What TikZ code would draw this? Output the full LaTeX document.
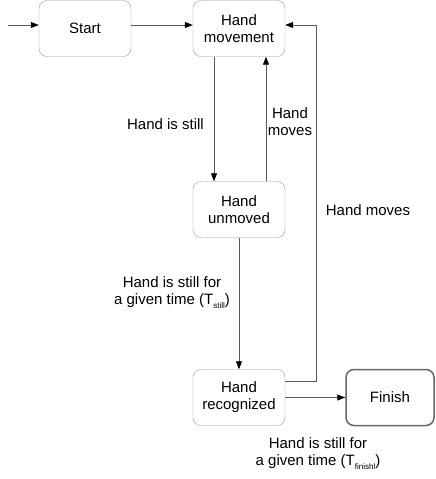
\documentclass[tikz,border=0pt]{standalone}
\usepackage{fontspec}
\setmainfont{Liberation Sans}
\usetikzlibrary{positioning,arrows.meta}
\newcommand*{\lowsub}[1]{\raisebox{-4pt}{\fontsize{8}{8}\selectfont #1}}

\begin{document}
\begin{tikzpicture}[x=1pt,y=-1pt,
  state/.style={draw=black!40,rounded corners=8pt,minimum width=92pt,
    minimum height=56pt,align=center,font=\fontsize{15}{17}\selectfont},
  final/.style={state,draw=black!60,line width=1.5pt,minimum width=88pt},
  flow/.style={draw=black!65,line width=0.8pt,
    -{Triangle[length=8pt,width=6pt,color=black]}},
  lbl/.style={align=center,font=\fontsize{15}{17}\selectfont}]
\useasboundingbox (0,0) rectangle (436,479);
% States
\node[state] (start) at (85,28.5) {Start};
\node[state] (move) at (239,28.5) {Hand\\movement};
\node[state] (unmoved) at (239,209.5) {Hand\\unmoved};
\node[state] (recog) at (239,397.5) {Hand\\recognized};
\node[final] (finish) at (390,397.5) {Finish};
% Entry and return points
\coordinate (entry) at (8,25);
\coordinate (back) at (316,381);
% Transitions
\draw[flow] (entry) -- (start.west |- entry);
\draw[flow] (start.east |- entry) -- (move.west |- entry);
\draw[flow] ([xshift=-25pt]move.south) -- ([xshift=-25pt]unmoved.north);
\draw[flow] ([xshift=27pt]unmoved.north) -- ([xshift=27pt]move.south);
\draw[flow] (unmoved) -- (recog);
\draw[flow] (recog.east |- back) -- (back) -- (back |- entry) -- (move.east |- entry);
\draw[flow] (recog) -- (finish);
% Conditions
\node[lbl] (still) at (165.5,124) {Hand is still};
\node[lbl] (movesup) at (290,122) {Hand\\moves};
\node[lbl] (movesback) at (368,210) {Hand moves};
\node[lbl] (stilltime) at (172,293) {Hand is still for\\a given time (T\lowsub{still})};
\node[lbl] (finishtime) at (318,454) {Hand is still for\\a given time (T\lowsub{finishl})};
\end{tikzpicture}
\end{document}
